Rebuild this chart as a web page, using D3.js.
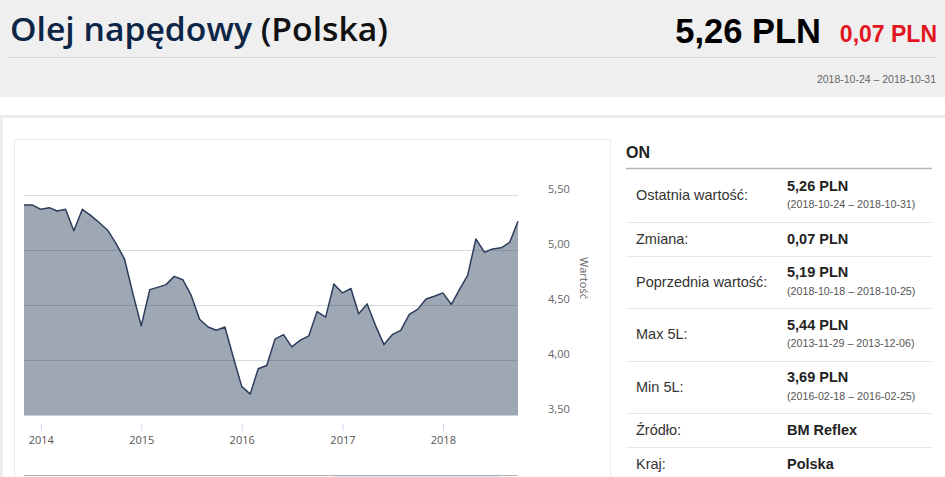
<!DOCTYPE html>
<html>
<head>
<meta charset="utf-8">
<script src="https://cdnjs.cloudflare.com/ajax/libs/d3/7.8.5/d3.min.js"></script>
<style>
  html, body { margin: 0; padding: 0; background: #fff; }
  svg { display: block; }
</style>
</head>
<body>
<div id="chart"></div>
<script>
// monthly averages, first point 2013-11, last 2018-10
var startMonth = "2013-11-01";
var prices = [
  5.41, 5.41, 5.37, 5.385, 5.355, 5.37, 5.175, 5.37, 5.315, 5.25,
  5.18, 5.06, 4.92, 4.61, 4.31, 4.64, 4.66, 4.685, 4.76, 4.73,
  4.59, 4.37, 4.30, 4.27, 4.30, 4.03, 3.76, 3.69, 3.92, 3.95,
  4.19, 4.23, 4.12, 4.18, 4.22, 4.44, 4.39, 4.69, 4.61, 4.65,
  4.42, 4.51, 4.315, 4.14, 4.23, 4.27, 4.415, 4.46, 4.555, 4.58,
  4.61, 4.505, 4.635, 4.77, 5.10, 4.98, 5.01, 5.02, 5.07, 5.26
];
var yTicks = [3.5, 4.0, 4.5, 5.0, 5.5];
var xTickYears = [2014, 2015, 2016, 2017, 2018];
var navigatorRange = ["2016-12-01", "2018-08-01"];

var titleMain = "Olej napędowy ";
var titleCountry = "(Polska)";
var lastValue = "5,26 PLN";
var lastChange = "0,07 PLN";
var lastPeriod = "2018-10-24 – 2018-10-31";

var tableHead = "ON";
var rowLabels = ["Ostatnia wartość:", "Zmiana:", "Poprzednia wartość:", "Max 5L:", "Min 5L:", "Źródło:", "Kraj:"];
var rowValues = ["5,26 PLN", "0,07 PLN", "5,19 PLN", "5,44 PLN", "3,69 PLN", "BM Reflex", "Polska"];
var rowPeriods = ["(2018-10-24 – 2018-10-31)", "", "(2018-10-18 – 2018-10-25)", "(2013-11-29 – 2013-12-06)", "(2016-02-18 – 2016-02-25)", "", ""];

var width = 945, height = 477;
var sans = "'Liberation Sans', Arial, sans-serif";
var chartFont = "'Open Sans', 'DejaVu Sans', sans-serif";

var svg = d3.select("#chart").append("svg")
    .attr("width", width)
    .attr("height", height);

// ---- header band
svg.append("rect").attr("x", 0).attr("y", 0).attr("width", width).attr("height", 97).attr("fill", "#efefef");

var title = svg.append("text")
    .attr("x", 10).attr("y", 41)
    .style("font-family", chartFont)
    .style("font-size", "32px")
    .style("font-weight", 600);
title.append("tspan").attr("fill", "#0d2647").text(titleMain);
title.append("tspan").attr("fill", "#111").text(titleCountry);
// squeeze to the reference width
title.attr("textLength", 378).attr("lengthAdjust", "spacingAndGlyphs");

svg.append("text")
    .attr("x", 821).attr("y", 43)
    .attr("text-anchor", "end")
    .style("font-family", sans).style("font-size", "34.5px").style("font-weight", "bold")
    .attr("fill", "#000")
    .text(lastValue);

svg.append("text")
    .attr("x", 937).attr("y", 42)
    .attr("text-anchor", "end")
    .style("font-family", sans).style("font-size", "23px").style("font-weight", "bold")
    .attr("fill", "#e3151f")
    .text(lastChange);

svg.append("line")
    .attr("x1", 8).attr("x2", 937).attr("y1", 57.5).attr("y2", 57.5)
    .attr("stroke", "#d6d6d6");

svg.append("text")
    .attr("x", 936).attr("y", 83)
    .attr("text-anchor", "end")
    .style("font-family", sans).style("font-size", "10.5px")
    .attr("fill", "#666")
    .text(lastPeriod);

// ---- outer panel and chart box
svg.append("rect")
    .attr("x", 1.5).attr("y", 116.5).attr("width", 960).attr("height", 400)
    .attr("fill", "#fff").attr("stroke", "#ececec").attr("stroke-width", 3);

svg.append("rect")
    .attr("x", 14.5).attr("y", 139.5).attr("width", 596).attr("height", 400)
    .attr("fill", "#fff").attr("stroke", "#ebebeb");

// ---- chart
var dates = prices.map(function (d, i) { return d3.timeMonth.offset(new Date(startMonth + "T00:00:00"), i); });
var series = prices.map(function (v, i) { return { date: dates[i], value: v }; });

var x = d3.scaleTime()
    .domain([dates[0], dates[dates.length - 1]])
    .range([24, 518]);

var y = d3.scaleLinear()
    .domain([3.5, 5.5])
    .range([415, 195]);

var area = d3.area()
    .x(function (d) { return x(d.date); })
    .y0(y(3.5))
    .y1(function (d) { return y(d.value); });

var line = d3.line()
    .x(function (d) { return x(d.date); })
    .y(function (d) { return y(d.value); });

svg.append("path")
    .datum(series)
    .attr("d", area)
    .attr("fill", "#9ea7b4");

// grid lines over the fill, so they darken inside it
svg.append("g")
    .selectAll("line")
    .data(yTicks.filter(function (d) { return d !== 3.5; }))
    .enter().append("line")
    .attr("x1", 24).attr("x2", 518)
    .attr("y1", function (d) { return Math.round(y(d)) + 0.5; })
    .attr("y2", function (d) { return Math.round(y(d)) + 0.5; })
    .attr("stroke", "#1a2233")
    .attr("stroke-opacity", 0.16);

svg.append("line")
    .attr("x1", 24).attr("x2", 518).attr("y1", 415.5).attr("y2", 415.5)
    .attr("stroke", "#ccd3de");

svg.append("path")
    .datum(series)
    .attr("d", line)
    .attr("fill", "none")
    .attr("stroke", "#2c3d5b")
    .attr("stroke-width", 1.5)
    .attr("stroke-linejoin", "round");

// y axis on the right
var yAxis = d3.axisRight(y)
    .tickValues(yTicks)
    .tickSize(0)
    .tickPadding(0)
    .tickFormat(function (d) { return d3.format(".2f")(d).replace(".", ","); });

var gy = svg.append("g")
    .attr("transform", "translate(548,0)")
    .call(yAxis);
gy.select(".domain").remove();
gy.selectAll("text")
    .attr("x", 0)
    .attr("dy", "-0.2em")
    .style("font-family", chartFont)
    .style("font-size", "11px")
    .attr("fill", "#666");

svg.append("text")
    .attr("transform", "translate(580,278) rotate(90)")
    .attr("text-anchor", "middle")
    .style("font-family", chartFont)
    .style("font-size", "11px")
    .attr("fill", "#666")
    .text("Wartość");

// x axis
var xAxis = d3.axisBottom(x)
    .tickValues(xTickYears.map(function (yr) { return new Date(yr, 0, 1); }))
    .tickSize(7)
    .tickPadding(5)
    .tickFormat(d3.timeFormat("%Y"));

var gx = svg.append("g")
    .attr("transform", "translate(0,424)")
    .call(xAxis);
gx.select(".domain").remove();
gx.selectAll(".tick line").attr("stroke", "#ccd6eb");
gx.selectAll("text")
    .style("font-family", chartFont)
    .style("font-size", "11px")
    .attr("fill", "#555");

// navigator strip peeking at the bottom
var navFrom = new Date(navigatorRange[0] + "T00:00:00");
var navTo = new Date(navigatorRange[1] + "T00:00:00");
svg.append("rect")
    .attr("x", x(navFrom)).attr("y", 475)
    .attr("width", x(navTo) - x(navFrom)).attr("height", 3)
    .attr("fill", "#dde6f5");
svg.append("line")
    .attr("x1", 24).attr("x2", 518).attr("y1", 475.5).attr("y2", 475.5)
    .attr("stroke", "#b2b2b2");

// ---- info table
svg.append("text")
    .attr("x", 626).attr("y", 158)
    .style("font-family", sans).style("font-size", "16px").style("font-weight", "bold")
    .attr("fill", "#222")
    .text(tableHead);

svg.append("line")
    .attr("x1", 626).attr("x2", 932).attr("y1", 168.5).attr("y2", 168.5)
    .attr("stroke", "#b5b5b5").attr("stroke-width", 1.5);

var rowTop = 169;
rowLabels.forEach(function (label, i) {
    var tall = rowPeriods[i] !== "";
    var h = tall ? 52.5 : 34;
    var g = svg.append("g").attr("transform", "translate(0," + rowTop + ")");
    var mid = h / 2;
    g.append("text")
        .attr("x", 636).attr("y", mid + 5)
        .style("font-family", sans).style("font-size", "14.5px")
        .attr("fill", "#333")
        .text(label);
    g.append("text")
        .attr("x", 787).attr("y", tall ? mid - 4.5 : mid + 5)
        .style("font-family", sans).style("font-size", "14.5px").style("font-weight", "bold")
        .attr("fill", "#222")
        .text(rowValues[i]);
    if (tall) {
        g.append("text")
            .attr("x", 787).attr("y", mid + 13)
            .style("font-family", sans).style("font-size", "10.7px")
            .attr("fill", "#555")
            .text(rowPeriods[i]);
    }
    rowTop += h;
    if (i < rowLabels.length - 1) {
        svg.append("line")
            .attr("x1", 626).attr("x2", 932)
            .attr("y1", Math.round(rowTop) + 0.5).attr("y2", Math.round(rowTop) + 0.5)
            .attr("stroke", "#e8e8e8");
    }
});
</script>
</body>
</html>
